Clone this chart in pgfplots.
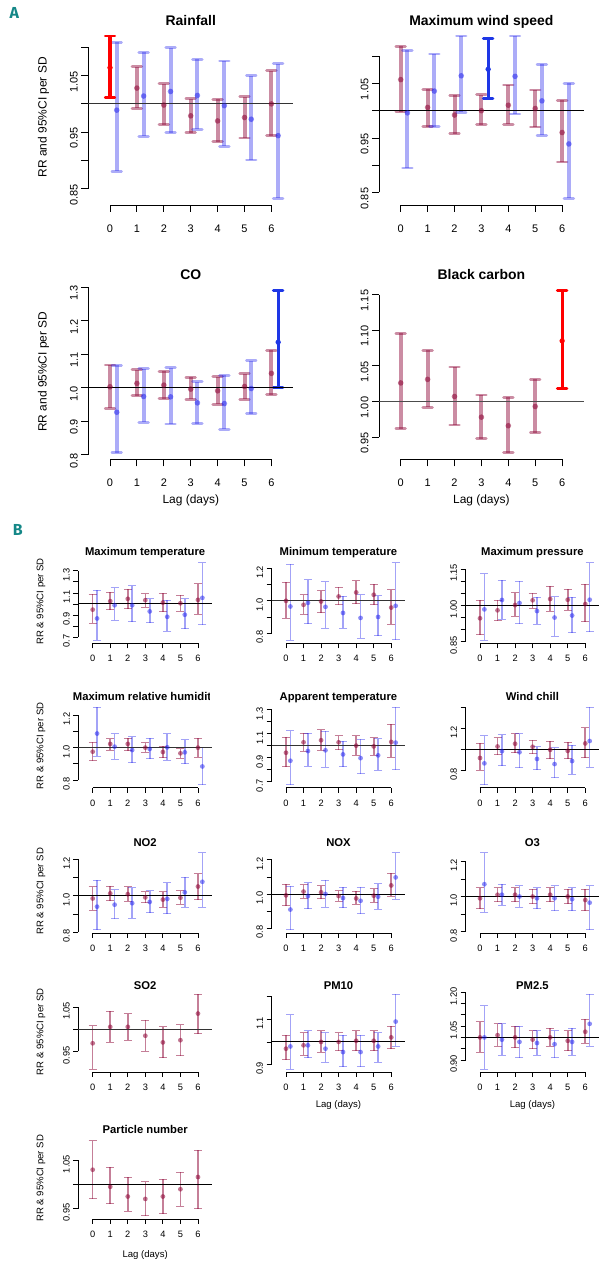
\documentclass[border=0pt]{standalone}
\usepackage{fontspec}
\setmainfont{Liberation Sans}
\newfontfamily\labfont{Fira Sans}
\usepackage{pgfplots}
\pgfplotsset{compat=1.18}
\definecolor{mar}{RGB}{139,0,50}
\definecolor{blu}{RGB}{25,25,235}
\definecolor{sred}{RGB}{255,0,0}
\definecolor{sblue}{RGB}{30,55,230}
\definecolor{tealL}{RGB}{20,135,135}

\pgfplotsset{
 Rax/.style={scale only axis, clip=false, axis x line*=bottom, axis y line*=left,
   axis line style={draw=none}, tick align=outside,
   xtick={0,1,2,3,4,5,6}, xticklabels={0,1,2,3,4,5,6},
   anchor=south west, yticklabel style={rotate=90, anchor=south}},
 Aax/.style={Rax, width=204.6bp, height=175.5bp, xmin=-0.805, xmax=6.80,
   major tick length=7bp, tick style={black, line width=0.9bp},
   ticklabel style={font=\fontsize{11}{13}\selectfont},
   yticklabel style={xshift=-6bp}, xticklabel style={yshift=-9bp}},
 Bax/.style={Rax, width=133.7bp, height=83.5bp, xmin=-0.82, xmax=6.80,
   major tick length=5bp, tick style={black, line width=0.75bp},
   ticklabel style={font=\fontsize{9.3}{11}\selectfont},
   yticklabel style={xshift=-4bp}, xticklabel style={yshift=-3.5bp}},
 eA/.style n args={3}{color=#1, only marks, mark=*, mark size=2.8bp,
   mark options={draw=none, draw opacity=0, fill=#1, fill opacity=#3},
   error bars/y dir=both, error bars/y explicit,
   error bars/error bar style={line width=4bp, draw=#1, draw opacity=#2},
   error bars/error mark options={rotate=90, mark size=4.8bp, line width=2.8bp, line cap=round, draw=#1, draw opacity=#2}},
 sA/.style={color=#1, only marks, mark=*, mark size=2.4bp,
   mark options={draw=none, fill=#1},
   error bars/y dir=both, error bars/y explicit,
   error bars/error bar style={line width=3.2bp, draw=#1},
   error bars/error mark options={rotate=90, mark size=4.8bp, line width=2.8bp, line cap=round, draw=#1}},
 eB/.style n args={3}{color=#1, only marks, mark=*, mark size=2.4bp,
   mark options={draw=none, draw opacity=0, fill=#1, fill opacity=#3},
   error bars/y dir=both, error bars/y explicit,
   error bars/error bar style={line width=1.6bp, draw=#1, draw opacity=#2},
   error bars/error mark options={rotate=90, mark size=4bp, line width=1bp, draw=#1, draw opacity=#2}},
 mA/.style={eA={mar}{0.45}{0.55}}, bA/.style={eA={blu}{0.36}{0.5}},
 mB/.style={eB={mar}{0.5}{0.55}}, bB/.style={eB={blu}{0.4}{0.5}},
}
\newcommand{\ser}[2]{\addplot[#1] table[row sep=\\, x=x, y=y, y error plus expr=\thisrow{hi}-\thisrow{y}, y error minus expr=\thisrow{y}-\thisrow{lo}] {x y lo hi\\ #2};}
% #1 ymin, #2 lowest tick, #3 highest tick, #4 xmin, #5 xmax, #6 width
\newcommand{\Rlines}[6]{%
 \addplot[black, line width=#6] coordinates {(0,#1) (6,#1)};
 \addplot[black, line width=#6] coordinates {(#4,#2) (#4,#3)};}
\newcommand{\hl}[3]{\addplot[#3] coordinates {(#1,1) (#2,1)};}

\begin{document}
\begin{tikzpicture}
\path[use as bounding box] (0,0) rectangle (610bp,1280bp);

% ---------- panel letters
\node[anchor=base west, inner sep=0, font=\labfont\bfseries\fontsize{16}{16}\selectfont, text=tealL] at (9.5bp,1261.7bp) {A};
\node[anchor=base west, inner sep=0, font=\labfont\bfseries\fontsize{16}{16}\selectfont, text=tealL] at (12.8bp,744bp) {B};

% ================= PANEL A =================
% Rainfall
\begin{axis}[Aax, at={(88.35bp,1075bp)}, ymin=0.8215, ymax=1.1315,
  ytick={0.85,0.9,0.95,1,1.05,1.1}, yticklabels={0.85,,0.95,,1.05,}]
\Rlines{0.8215}{0.85}{1.1}{-0.805}{6.80}{0.9bp}
\ser{mA}{1 1.028 0.992 1.066\\ 2 0.998 0.963 1.036\\ 3 0.979 0.949 1.009\\ 4 0.970 0.933 1.008\\ 5 0.976 0.940 1.013\\ 6 1.000 0.944 1.059\\}
\ser{bA}{0.25 0.989 0.881 1.109\\ 1.25 1.014 0.943 1.091\\ 2.25 1.022 0.949 1.099\\ 3.25 1.015 0.955 1.079\\ 4.25 0.997 0.925 1.076\\ 5.25 0.973 0.901 1.050\\ 6.25 0.944 0.833 1.071\\}
\ser{sA=sred}{0 1.064 1.011 1.120\\}
\hl{-0.805}{6.80}{black!80, line width=1bp}
\end{axis}

% Maximum wind speed
\begin{axis}[Aax, at={(379.05bp,1075bp)}, ymin=0.8271, ymax=1.1489,
  ytick={0.85,0.9,0.95,1,1.05,1.1}, yticklabels={0.85,,0.95,,1.05,}]
\Rlines{0.8271}{0.85}{1.1}{-0.805}{6.80}{0.9bp}
\ser{mA}{0 1.057 0.998 1.118\\ 1 1.006 0.971 1.039\\ 2 0.992 0.958 1.028\\ 3 1.000 0.974 1.029\\ 4 1.010 0.975 1.047\\ 5 1.004 0.970 1.038\\ 6 0.960 0.906 1.019\\}
\ser{bA}{0.25 0.996 0.895 1.111\\ 1.25 1.036 0.971 1.104\\ 2.25 1.064 0.997 1.137\\ 4.25 1.063 0.994 1.137\\ 5.25 1.018 0.955 1.085\\ 6.25 0.939 0.839 1.050\\}
\ser{sA=sblue}{3.25 1.076 1.022 1.133\\}
\hl{-0.805}{6.80}{black, line width=1.1bp}
\end{axis}

% CO
\begin{axis}[Aax, at={(88.35bp,820.7bp)}, ymin=0.7866, ymax=1.3104,
  ytick={0.8,0.9,1,1.1,1.2,1.3}, yticklabels={0.8,0.9,1.0,1.1,1.2,1.3}]
\Rlines{0.7866}{0.8}{1.3}{-0.805}{6.80}{0.9bp}
\ser{mA}{0 1.003 0.939 1.068\\ 1 1.013 0.976 1.054\\ 2 1.008 0.968 1.049\\ 3 0.996 0.966 1.031\\ 4 0.991 0.951 1.033\\ 5 1.004 0.966 1.042\\ 6 1.043 0.979 1.112\\}
\ser{bA}{0.25 0.927 0.806 1.067\\ 1.25 0.974 0.897 1.057\\ 2.25 0.973 0.892 1.060\\ 3.25 0.955 0.893 1.018\\ 4.25 0.953 0.876 1.037\\ 5.25 0.998 0.923 1.081\\}
\ser{sA=sblue}{6.25 1.136 1.000 1.291\\}
\hl{-0.805}{6.80}{black, line width=1.1bp}
\end{axis}

% Black carbon
\begin{axis}[Aax, at={(379.05bp,820.7bp)}, ymin=0.9189, ymax=1.1651,
  ytick={0.95,1,1.05,1.1,1.15}, yticklabels={0.95,1.00,1.05,1.10,1.15}]
\Rlines{0.9189}{0.95}{1.15}{-0.805}{6.80}{0.9bp}
\ser{mA}{0 1.026 0.962 1.0955\\ 1 1.031 0.992 1.072\\ 2 1.007 0.967 1.0485\\ 3 0.978 0.948 1.009\\ 4 0.966 0.928 1.006\\ 5 0.993 0.956 1.031\\}
\ser{sA=sred}{6 1.085 1.018 1.156\\}
\hl{-0.805}{6.80}{black!70, line width=1bp}
\end{axis}

% titles and labels A
\begin{scope}[font=\fontsize{14}{14}\selectfont\bfseries]
\node[anchor=base] at (190.8bp,1254bp) {Rainfall};
\node[anchor=base] at (481.35bp,1254bp) {Maximum wind speed};
\node[anchor=base] at (190.8bp,1000.7bp) {CO};
\node[anchor=base] at (481.35bp,1000.7bp) {Black carbon};
\end{scope}
\begin{scope}[font=\fontsize{12}{12}\selectfont]
\node[rotate=90, anchor=base] at (46.7bp,1162.75bp) {RR and 95\%CI per SD};
\node[rotate=90, anchor=base] at (46.7bp,908.35bp) {RR and 95\%CI per SD};
\node[anchor=base] at (190.8bp,776bp) {Lag (days)};
\node[anchor=base] at (481.35bp,776bp) {Lag (days)};
\end{scope}

% ================= PANEL B =================
% Row 1 -----------------------------------
\begin{axis}[Bax, at={(78.3bp,636.7bp)}, ymin=0.643, ymax=1.400,
  ytick={0.7,0.8,0.9,1,1.1,1.2,1.3}, yticklabels={0.7,,0.9,,1.1,,1.3}]
\Rlines{0.643}{0.7}{1.3}{-0.82}{6.80}{0.8bp}
\ser{mB}{0 0.948 0.825 1.086\\ 1 1.025 0.948 1.108\\ 2 1.046 0.957 1.132\\ 3 1.034 0.969 1.092\\ 4 1.012 0.929 1.095\\ 5 1.006 0.932 1.080\\ 6 1.037 0.905 1.185\\}
\ser{bB}{0.25 0.868 0.671 1.126\\ 1.25 0.988 0.852 1.145\\ 2.25 0.988 0.840 1.163\\ 3.25 0.932 0.828 1.049\\ 4.25 0.883 0.751 1.034\\ 5.25 0.902 0.775 1.046\\ 6.25 1.055 0.812 1.372\\}
\hl{-0.82}{6.80}{black, line width=0.9bp}
\end{axis}

\begin{axis}[Bax, at={(271.6bp,636.7bp)}, ymin=0.7368, ymax=1.2542,
  ytick={0.8,0.9,1,1.1,1.2}, yticklabels={0.8,,1.0,,1.2}]
\Rlines{0.7368}{0.8}{1.2}{-0.82}{6.80}{0.8bp}
\ser{mB}{0 1.000 0.892 1.115\\ 1 0.975 0.917 1.0375\\ 2 0.996 0.927 1.0625\\ 3 1.027 0.977 1.083\\ 4 1.052 0.983 1.123\\ 5 1.0375 0.975 1.104\\ 6 0.958 0.856 1.069\\}
\ser{bB}{0.25 0.965 0.756 1.227\\ 1.25 0.9875 0.858 1.129\\ 2.25 0.9625 0.831 1.117\\ 3.25 0.925 0.829 1.029\\ 4.25 0.894 0.769 1.0375\\ 5.25 0.900 0.785 1.031\\ 6.25 0.969 0.760 1.235\\}
\hl{-0.82}{6.80}{black!80, line width=0.9bp}
\end{axis}

\begin{axis}[Bax, at={(465.6bp,636.7bp)}, ymin=0.8412, ymax=1.1878,
  ytick={0.85,0.9,0.95,1,1.05,1.1,1.15}, yticklabels={0.85,,,1.00,,,1.15}]
\Rlines{0.8412}{0.85}{1.15}{-0.82}{6.80}{0.8bp}
\ser{mB}{0 0.945 0.877 1.0196\\ 1 0.978 0.935 1.0196\\ 2 1.000 0.954 1.052\\ 3 1.0196 0.986 1.049\\ 4 1.025 0.975 1.077\\ 5 1.022 0.978 1.0645\\ 6 1.004 0.931 1.087\\}
\ser{bB}{0.25 0.982 0.854 1.129\\ 1.25 1.021 0.941 1.102\\ 2.25 1.0084 0.923 1.0996\\ 3.25 0.975 0.921 1.032\\ 4.25 0.948 0.870 1.034\\ 5.25 0.9565 0.884 1.032\\ 6.25 1.022 0.889 1.175\\}
\hl{-0.82}{6.80}{black, line width=0.9bp}
\end{axis}

% Row 2 -----------------------------------
\begin{axis}[Bax, at={(78.3bp,492.3bp)}, ymin=0.7529, ymax=1.2681,
  ytick={0.8,0.9,1,1.1,1.2}, yticklabels={0.8,,1.0,,1.2}]
\Rlines{0.7529}{0.8}{1.2}{-0.82}{6.80}{0.8bp}
\ser{mB}{0 0.975 0.919 1.033\\ 1 1.023 0.983 1.056\\ 2 1.023 0.981 1.058\\ 3 1.000 0.971 1.029\\ 4 0.973 0.938 1.010\\ 5 0.965 0.934 0.994\\ 6 1.000 0.942 1.058\\}
\ser{bB}{0.25 1.087 0.946 1.249\\ 1.25 1.006 0.927 1.085\\ 2.25 0.985 0.907 1.068\\ 3.25 0.992 0.932 1.058\\ 4.25 1.002 0.921 1.087\\ 5.25 0.971 0.901 1.048\\ 6.25 0.884 0.772 1.000\\}
\hl{-0.82}{6.80}{black!80, line width=0.9bp}
\end{axis}

\begin{axis}[Bax, at={(271.6bp,492.3bp)}, ymin=0.6492, ymax=1.3458,
  ytick={0.7,0.8,0.9,1,1.1,1.2,1.3}, yticklabels={0.7,,0.9,,1.1,,1.3}]
\Rlines{0.6492}{0.7}{1.3}{-0.82}{6.80}{0.8bp}
\ser{mB}{0 0.941 0.823 1.070\\ 1 1.028 0.952 1.104\\ 2 1.045 0.961 1.132\\ 3 1.028 0.964 1.084\\ 4 1.000 0.921 1.081\\ 5 0.994 0.919 1.067\\ 6 1.031 0.902 1.179\\}
\ser{bB}{0.25 0.874 0.675 1.126\\ 1.25 0.955 0.829 1.104\\ 2.25 0.961 0.821 1.121\\ 3.25 0.927 0.826 1.036\\ 4.25 0.896 0.767 1.053\\ 5.25 0.919 0.795 1.059\\ 6.25 1.025 0.798 1.320\\}
\hl{-0.82}{6.80}{black!80, line width=0.9bp}
\end{axis}

\begin{axis}[Bax, at={(465.6bp,492.3bp)}, ymin=0.6355, ymax=1.4325,
  ytick={0.8,1,1.2,1.4}, yticklabels={0.8,,1.2,}]
\Rlines{0.6355}{0.8}{1.4}{-0.82}{6.80}{0.8bp}
\ser{mB}{0 0.919 0.800 1.058\\ 1 1.029 0.952 1.110\\ 2 1.055 0.968 1.148\\ 3 1.026 0.961 1.090\\ 4 0.997 0.913 1.081\\ 5 0.987 0.910 1.071\\ 6 1.058 0.923 1.210\\}
\ser{bB}{0.25 0.868 0.665 1.129\\ 1.25 0.984 0.845 1.142\\ 2.25 0.974 0.826 1.152\\ 3.25 0.910 0.806 1.026\\ 4.25 0.861 0.729 1.016\\ 5.25 0.890 0.765 1.039\\ 6.25 1.081 0.832 1.403\\}
\hl{-0.82}{6.80}{black, line width=0.9bp}
\end{axis}

% Row 3 -----------------------------------
\begin{axis}[Bax, at={(78.3bp,347bp)}, ymin=0.795, ymax=1.255,
  ytick={0.8,0.9,1,1.1,1.2}, yticklabels={0.8,,1.0,,1.2}]
\Rlines{0.795}{0.8}{1.2}{-0.82}{6.80}{0.8bp}
\ser{mB}{0 0.985 0.919 1.051\\ 1 1.013 0.974 1.053\\ 2 1.009 0.970 1.049\\ 3 0.991 0.961 1.023\\ 4 0.979 0.938 1.021\\ 5 0.989 0.953 1.028\\ 6 1.051 0.979 1.122\\}
\ser{bB}{0.25 0.940 0.812 1.085\\ 1.25 0.951 0.874 1.032\\ 2.25 0.959 0.876 1.045\\ 3.25 0.966 0.906 1.028\\ 4.25 0.983 0.900 1.073\\ 5.25 1.019 0.938 1.103\\ 6.25 1.077 0.936 1.238\\}
\hl{-0.82}{6.80}{black, line width=0.9bp}
\end{axis}

\begin{axis}[Bax, at={(271.6bp,347bp)}, ymin=0.7719, ymax=1.2601,
  ytick={0.8,0.9,1,1.1,1.2}, yticklabels={0.8,,1.0,,1.2}]
\Rlines{0.7719}{0.8}{1.2}{-0.82}{6.80}{0.8bp}
\ser{mB}{0 0.992 0.931 1.057\\ 1 1.014 0.974 1.053\\ 2 1.010 0.972 1.048\\ 3 0.988 0.958 1.020\\ 4 0.974 0.941 1.016\\ 5 0.990 0.952 1.032\\ 6 1.050 0.986 1.121\\}
\ser{bB}{0.25 0.909 0.790 1.044\\ 1.25 0.988 0.915 1.067\\ 2.25 1.000 0.923 1.081\\ 3.25 0.976 0.919 1.040\\ 4.25 0.960 0.883 1.040\\ 5.25 0.984 0.911 1.061\\ 6.25 1.097 0.968 1.242\\}
\hl{-0.82}{6.80}{black, line width=0.9bp}
\end{axis}

\begin{axis}[Bax, at={(465.6bp,347bp)}, ymin=0.7924, ymax=1.2676,
  ytick={0.8,0.9,1,1.1,1.2}, yticklabels={0.8,,1.0,,1.2}]
\Rlines{0.7924}{0.8}{1.2}{-0.82}{6.80}{0.8bp}
\ser{mB}{0 0.99 0.93 1.05\\ 1 1.01 0.97 1.05\\ 2 1.01 0.97 1.05\\ 3 1.00 0.96 1.04\\ 4 1.01 0.97 1.05\\ 5 1.00 0.96 1.04\\ 6 0.98 0.92 1.04\\}
\ser{bB}{0.25 1.07 0.91 1.25\\ 1.25 1.01 0.95 1.07\\ 2.25 1.00 0.94 1.06\\ 3.25 0.99 0.93 1.05\\ 4.25 0.99 0.92 1.06\\ 5.25 0.985 0.92 1.05\\ 6.25 0.965 0.81 1.06\\}
\hl{-0.82}{6.80}{black, line width=0.9bp}
\end{axis}

% Row 4 -----------------------------------
\begin{axis}[Bax, height=80.5bp, at={(78.3bp,208bp)}, ymin=0.9033, ymax=1.0847,
  ytick={0.95,1,1.05}, yticklabels={0.95,,1.05}]
\Rlines{0.9033}{0.95}{1.05}{-0.82}{6.80}{0.8bp}
\ser{mB}{0 0.968 0.910 1.007\\ 1 1.005 0.970 1.040\\ 2 1.005 0.975 1.035\\ 3 0.985 0.950 1.020\\ 4 0.970 0.935 1.005\\ 5 0.975 0.940 1.010\\ 6 1.035 0.990 1.078\\}
\hl{-0.82}{6.80}{black!80, line width=0.9bp}
\end{axis}

\begin{axis}[Bax, height=80.5bp, at={(271.6bp,208bp)}, ymin=0.8668, ymax=1.2232,
  ytick={0.9,1,1.1,1.2}, yticklabels={0.9,,1.1,}]
\Rlines{0.8668}{0.9}{1.2}{-0.82}{6.80}{0.8bp}
\ser{mB}{0 0.97 0.92 1.03\\ 1 0.985 0.94 1.04\\ 2 1.00 0.955 1.05\\ 3 1.00 0.96 1.04\\ 4 1.005 0.96 1.05\\ 5 1.005 0.96 1.05\\ 6 1.02 0.97 1.07\\}
\ser{bB}{0.25 0.98 0.88 1.12\\ 1.25 0.985 0.93 1.05\\ 2.25 0.97 0.91 1.04\\ 3.25 0.955 0.89 1.03\\ 4.25 0.955 0.89 1.03\\ 5.25 0.98 0.91 1.04\\ 6.25 1.09 0.98 1.21\\}
\hl{-0.82}{6.80}{black, line width=0.9bp}
\end{axis}

\begin{axis}[Bax, height=80.5bp, at={(465.6bp,208bp)}, ymin=0.8468, ymax=1.2032,
  ytick={0.9,0.95,1,1.05,1.1,1.15,1.2}, yticklabels={0.90,,,1.05,,,1.20}]
\Rlines{0.8468}{0.9}{1.2}{-0.82}{6.80}{0.8bp}
\ser{mB}{0 1.00 0.935 1.07\\ 1 1.01 0.96 1.06\\ 2 1.00 0.955 1.05\\ 3 0.99 0.95 1.03\\ 4 1.00 0.96 1.04\\ 5 0.985 0.94 1.03\\ 6 1.025 0.975 1.08\\}
\ser{bB}{0.25 1.00 0.86 1.14\\ 1.25 0.99 0.92 1.06\\ 2.25 0.98 0.91 1.05\\ 3.25 0.975 0.92 1.03\\ 4.25 0.97 0.91 1.03\\ 5.25 0.98 0.92 1.04\\ 6.25 1.06 0.96 1.19\\}
\hl{-0.82}{6.80}{black, line width=0.9bp}
\end{axis}

% Row 5 -----------------------------------
\begin{axis}[Bax, height=81.5bp, at={(78.3bp,61bp)}, ymin=0.9288, ymax=1.0962,
  ytick={0.95,1,1.05}, yticklabels={0.95,,1.05}]
\Rlines{0.9288}{0.95}{1.05}{-0.82}{6.80}{0.8bp}
\ser{mB}{0 1.03 0.97 1.09\\ 1 0.995 0.96 1.035\\ 2 0.975 0.945 1.015\\ 3 0.97 0.935 1.005\\ 4 0.975 0.94 1.01\\ 5 0.99 0.955 1.025\\ 6 1.015 0.95 1.07\\}
\hl{-0.82}{6.80}{black, line width=0.9bp}
\end{axis}

% titles B
\begin{scope}[font=\fontsize{11.3}{11.3}\selectfont\bfseries]
\node[anchor=base] at (145.15bp,724bp) {Maximum temperature};
\node[anchor=base] at (338.45bp,724bp) {Minimum temperature};
\node[anchor=base] at (532.45bp,724bp) {Maximum pressure};
\begin{scope}
\clip (0bp,560bp) rectangle (209bp,600bp);
\node[anchor=base] at (145.15bp,579.5bp) {Maximum relative humidity};
\end{scope}
\node[anchor=base] at (338.45bp,579.5bp) {Apparent temperature};
\node[anchor=base] at (532.45bp,579.5bp) {Wind chill};
\node[anchor=base] at (145.15bp,433.3bp) {NO2};
\node[anchor=base] at (338.45bp,433.3bp) {NOX};
\node[anchor=base] at (532.45bp,433.3bp) {O3};
\node[anchor=base] at (145.15bp,290bp) {SO2};
\node[anchor=base] at (338.45bp,290bp) {PM10};
\node[anchor=base] at (532.45bp,290bp) {PM2.5};
\node[anchor=base] at (145.15bp,146bp) {Particle number};
\end{scope}
\begin{scope}[font=\fontsize{9.6}{9.6}\selectfont]
\node[rotate=90, anchor=base] at (43.3bp,678.5bp) {RR \& 95\%CI per SD};
\node[rotate=90, anchor=base] at (43.3bp,534bp) {RR \& 95\%CI per SD};
\node[rotate=90, anchor=base] at (43.3bp,388.7bp) {RR \& 95\%CI per SD};
\node[rotate=90, anchor=base] at (43.3bp,248.2bp) {RR \& 95\%CI per SD};
\node[rotate=90, anchor=base] at (43.3bp,101.7bp) {RR \& 95\%CI per SD};
\node[anchor=base] at (338.45bp,172bp) {Lag (days)};
\node[anchor=base] at (532.45bp,172bp) {Lag (days)};
\node[anchor=base] at (145.15bp,23bp) {Lag (days)};
\end{scope}
\end{tikzpicture}
\end{document}
